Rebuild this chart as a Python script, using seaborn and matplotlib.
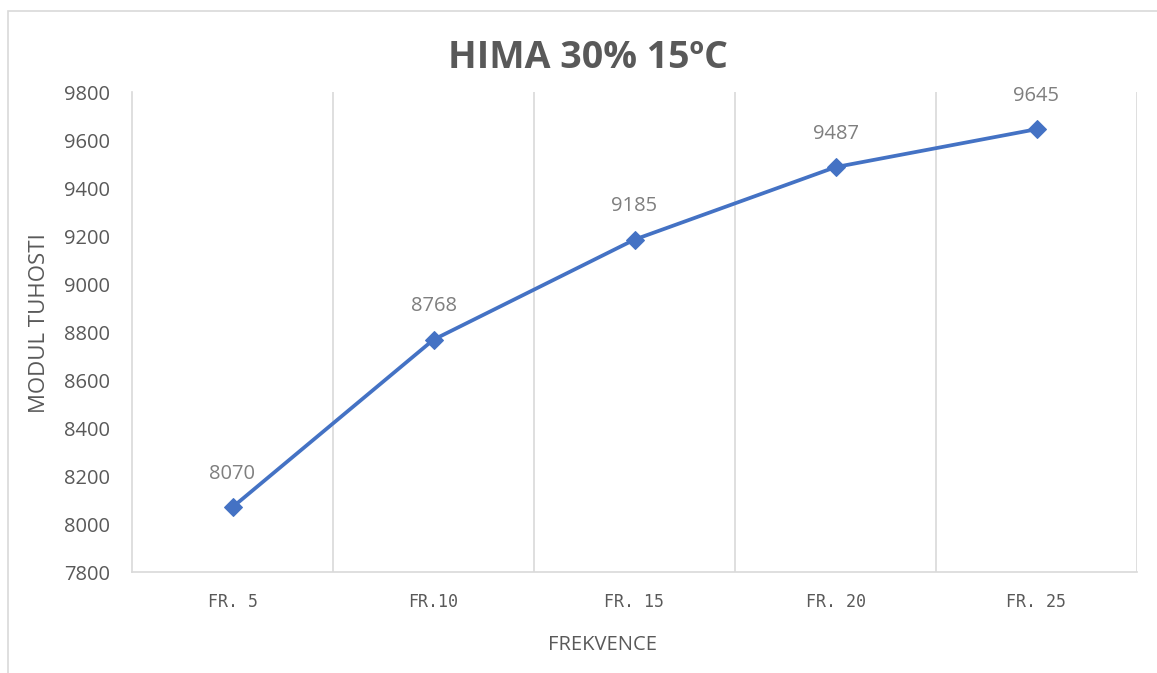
import matplotlib
matplotlib.use("Agg")
import matplotlib.pyplot as plt
import seaborn as sns
import pandas as pd
from matplotlib.patches import Rectangle

categories = ["FR. 5", "FR.10", "FR. 15", "FR. 20", "FR. 25"]
values = [8070, 8768, 9185, 9487, 9645]
yticks = [7800, 8000, 8200, 8400, 8600, 8800, 9000, 9200, 9400, 9600, 9800]

sns.set_style("white")
plt.rcParams['font.family'] = ['Open Sans', 'DejaVu Sans']

df = pd.DataFrame({"cat": categories, "val": values})

W, H = 1157, 673
fig = plt.figure(figsize=(W / 100, H / 100), dpi=100)
ax = fig.add_axes([132 / W, 1 - 572 / H, (1137 - 132) / W, (572 - 92) / H])

line_color = "#4472C4"
sns.lineplot(data=df, x="cat", y="val", ax=ax, color=line_color, linewidth=2.7,
             marker="D", markersize=9, markeredgecolor=line_color, sort=False)

ax.set_xlim(-0.5, len(categories) - 0.5)
ax.set_ylim(yticks[0], yticks[-1])
ax.set_yticks(yticks)
ax.set_yticklabels([str(t) for t in yticks], fontsize=14.5, color="#595959")
ax.set_xticks(range(len(categories)))
ax.set_xticklabels(categories, fontsize=12, color="#595959", family="DejaVu Sans Mono")
ax.tick_params(axis="both", length=0)
ax.tick_params(axis="y", pad=16)
ax.tick_params(axis="x", pad=15)

# vertical gridlines at category boundaries
for b in range(1, len(categories) + 1):
    ax.axvline(b - 0.5, color="#D9D9D9", linewidth=1.2, zorder=0)

for s in ["top", "right"]:
    ax.spines[s].set_visible(False)
for s in ["left", "bottom"]:
    ax.spines[s].set_color("#D9D9D9")
    ax.spines[s].set_linewidth(1.2)

for i, v in enumerate(values):
    ax.annotate(str(v), (i, v), xytext=(0, 24), textcoords="offset points",
                ha="center", va="center", fontsize=14.5, color="#7F7F7F")

ax.set_xlabel("FREKVENCE", fontsize=14.5, color="#595959")
ax.xaxis.set_label_coords((602 - 132) / (1137 - 132), -(645 - 572) / (572 - 92))
ax.xaxis.label.set_va("center")
ax.set_ylabel("MODUL TUHOSTI", fontsize=16, color="#595959")
ax.yaxis.set_label_coords(-(132 - 40) / (1137 - 132), (572 - 323) / (572 - 92))
ax.yaxis.label.set_va("center")

fig.text(588 / W, 1 - 58 / H, "HIMA 30% 15ºC", ha="center", va="center",
         fontsize=27, fontweight="bold", color="#595959")

# outer chart border (cropped at right/bottom)
fig.add_artist(Rectangle((8 / W, -0.05), 1.2, 1 - 11 / H + 0.05, transform=fig.transFigure,
                         fill=False, edgecolor="#D9D9D9", linewidth=1.2))

fig.savefig("out.png", dpi=100, facecolor="white")
